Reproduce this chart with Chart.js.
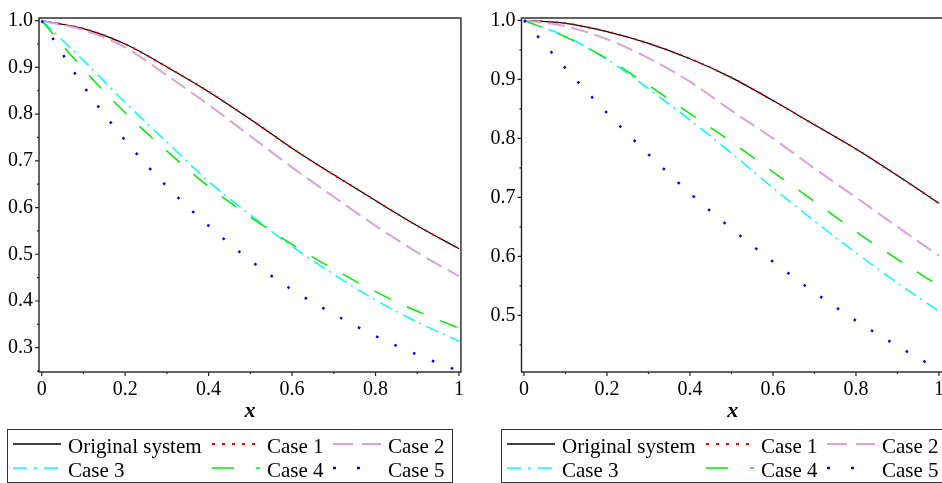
<!DOCTYPE html>
<html>
<head>
<meta charset="utf-8">
<script src="https://cdn.jsdelivr.net/npm/chart.js@4.4.1/dist/chart.umd.min.js"></script>
<style>
  html, body { margin: 0; padding: 0; overflow: hidden; background: #fff; }
  body { width: 942px; height: 483px; position: relative; font-family: "Liberation Serif", "Times New Roman", serif; }
  canvas.plot { position: absolute; top: 0; }
  #leftChart { left: 0; }
  #rightChart { left: 470px; }
  .legend { position: absolute; top: 429px; height: 54px; box-sizing: border-box; border: 1.5px solid #333; }
  .legend span { position: absolute; font-size: 21px; line-height: 21px; white-space: nowrap; color: #000; }
  .legend canvas { position: absolute; }
</style>
</head>
<body>
<canvas id="leftChart" class="plot" width="470" height="430"></canvas>
<canvas id="rightChart" class="plot" width="480" height="430"></canvas>
<div id="leftLegend" class="legend" style="left:7px;width:446px"></div>
<div id="rightLegend" class="legend" style="left:501px;width:443px"></div>
<script>
// values
const xValues = [0, 0.1, 0.2, 0.3, 0.4, 0.5, 0.6, 0.7, 0.8, 0.9, 1]

const leftOriginal = [1.000, 0.983, 0.950, 0.901, 0.848, 0.789, 0.727, 0.670, 0.615, 0.561, 0.512]
const leftCase1 = [1.000, 0.983, 0.950, 0.901, 0.848, 0.789, 0.727, 0.670, 0.615, 0.561, 0.512]
const leftCase2 = [1.000, 0.980, 0.943, 0.883, 0.820, 0.753, 0.686, 0.623, 0.561, 0.504, 0.453]
const leftCase3 = [1.000, 0.915, 0.825, 0.740, 0.656, 0.584, 0.517, 0.457, 0.402, 0.355, 0.314]
const leftCase4 = [1.000, 0.896, 0.803, 0.721, 0.645, 0.580, 0.521, 0.468, 0.420, 0.378, 0.342]
const leftCase5 = [1.000, 0.860, 0.744, 0.645, 0.561, 0.487, 0.424, 0.372, 0.325, 0.285, 0.250]

const rightOriginal = [1.000, 0.995, 0.981, 0.961, 0.935, 0.903, 0.864, 0.823, 0.782, 0.737, 0.690]
const rightCase1 = [1.000, 0.995, 0.981, 0.961, 0.935, 0.903, 0.864, 0.823, 0.782, 0.737, 0.690]
const rightCase2 = [1.000, 0.990, 0.968, 0.936, 0.896, 0.847, 0.800, 0.749, 0.700, 0.650, 0.601]
const rightCase3 = [1.000, 0.973, 0.934, 0.884, 0.831, 0.775, 0.716, 0.660, 0.606, 0.555, 0.507]
const rightCase4 = [1.000, 0.972, 0.935, 0.890, 0.842, 0.794, 0.743, 0.693, 0.642, 0.595, 0.550]
const rightCase5 = [1.000, 0.919, 0.843, 0.773, 0.707, 0.647, 0.591, 0.539, 0.491, 0.448, 0.408]

const seriesNames = ['Original system', 'Case 1', 'Case 2', 'Case 3', 'Case 4', 'Case 5']
const xTicks = [0, 0.2, 0.4, 0.6, 0.8, 1]
const xTickLabels = ['0', '0.2', '0.4', '0.6', '0.8', '1']
const leftYTicks = [0.3, 0.4, 0.5, 0.6, 0.7, 0.8, 0.9, 1.0]
const rightYTicks = [0.5, 0.6, 0.7, 0.8, 0.9, 1.0]
const axisTitle = 'x'

// line looks, same order as seriesNames
const styles = [
  { color: '#000000', width: 1.2, dash: [], legendDash: [] },
  { color: '#ff0000', width: 2, dash: [2, 6], legendDash: [3, 7] },
  { color: '#dda0dd', width: 2, dash: [17, 7], legendDash: [20, 9] },
  { color: '#00ffff', width: 1.5, dash: [13, 5, 2, 6], legendDash: [14, 7, 3, 7] },
  { color: '#00ee00', width: 1.5, dash: [18, 18], legendDash: [22, 22] },
  { color: '#0000ff', width: 2.5, dash: [2.5, 17.8], legendDash: [3, 21] }
]

const serif = '"Liberation Serif", "Times New Roman", serif'

function midpoints(ticks, min) {
  const step = ticks[1] - ticks[0]
  const out = ticks.slice(0, -1).map(t => t + step / 2)
  if (ticks[0] - step / 2 >= min) out.unshift(ticks[0] - step / 2)
  return out
}

// boxed frame with outward ticks, like the original plot
const framePlugin = {
  id: 'frame',
  afterDraw(chart, args, opts) {
    const { ctx, chartArea: a, scales: { x, y } } = chart
    ctx.save()
    ctx.strokeStyle = '#222'
    ctx.lineWidth = 1.4
    ctx.strokeRect(a.left, a.top, a.right - a.left, a.bottom - a.top)
    ctx.lineWidth = 1.2
    ctx.beginPath()
    xTicks.forEach(v => { const p = x.getPixelForValue(v); ctx.moveTo(p, a.bottom); ctx.lineTo(p, a.bottom + 4) })
    midpoints(xTicks, 0).forEach(v => { const p = x.getPixelForValue(v); ctx.moveTo(p, a.bottom); ctx.lineTo(p, a.bottom + 2) })
    opts.yTicks.forEach(v => { const p = y.getPixelForValue(v); ctx.moveTo(a.left, p); ctx.lineTo(a.left - 4, p) })
    midpoints(opts.yTicks, y.min).forEach(v => { const p = y.getPixelForValue(v); ctx.moveTo(a.left, p); ctx.lineTo(a.left - 2, p) })
    ctx.stroke()
    ctx.restore()
  }
}

function makeChart(id, series, yTicks, box) {
  const datasets = series.map((vals, i) => ({
    label: seriesNames[i],
    data: xValues.map((xv, k) => ({ x: xv, y: vals[k] })),
    borderColor: styles[i].color,
    borderWidth: styles[i].width,
    borderDash: styles[i].dash,
    borderCapStyle: 'butt',
    cubicInterpolationMode: 'monotone',
    pointRadius: 0,
    fill: false,
    order: series.length - 1 - i
  }))

  return new Chart(document.getElementById(id), {
    type: 'line',
    data: { datasets },
    plugins: [framePlugin],
    options: {
      responsive: false,
      animation: false,
      layout: { padding: { top: 14, right: box.padRight, left: 0, bottom: 0 } },
      plugins: {
        legend: { display: false },
        tooltip: { enabled: false },
        frame: { yTicks }
      },
      scales: {
        x: {
          type: 'linear',
          min: box.xMin,
          max: box.xMax,
          grid: { display: false, drawTicks: false },
          border: { display: false },
          afterBuildTicks: s => { s.ticks = xTicks.map(v => ({ value: v })) },
          afterFit: s => { s.height = 58 },
          ticks: {
            color: '#000',
            font: { family: serif, size: 20 },
            padding: 6,
            maxRotation: 0,
            autoSkip: false,
            callback: v => xTickLabels[xTicks.indexOf(v)]
          },
          title: {
            display: true,
            text: axisTitle,
            color: '#000',
            font: { family: serif, size: 22, style: 'italic', weight: 'bold' },
            padding: { top: 0, bottom: 5 }
          }
        },
        y: {
          type: 'linear',
          min: box.yMin,
          max: box.yMax,
          grid: { display: false, drawTicks: false },
          border: { display: false },
          afterBuildTicks: s => { s.ticks = yTicks.map(v => ({ value: v })) },
          afterFit: s => { s.width = box.yWidth },
          ticks: {
            color: '#000',
            font: { family: serif, size: 20 },
            padding: 6,
            callback: v => v.toFixed(1)
          }
        }
      }
    }
  })
}

makeChart('leftChart',
  [leftOriginal, leftCase1, leftCase2, leftCase3, leftCase4, leftCase5],
  leftYTicks,
  { xMin: -0.0065, xMax: 1.0047, yMin: 0.248, yMax: 1.0057, yWidth: 39, padRight: 9 })

makeChart('rightChart',
  [rightOriginal, rightCase1, rightCase2, rightCase3, rightCase4, rightCase5],
  rightYTicks,
  { xMin: -0.006, xMax: 1.012, yMin: 0.404, yMax: 1.004, yWidth: 51.5, padRight: 5 })

// legend boxes, 3 columns x 2 rows
function makeLegend(id) {
  const el = document.getElementById(id)
  const sampleX = [4, 203, 324]
  const textX = [60, 259, 380]
  const rowLine = [14, 38]
  const rowTextTop = [5.5, 30]
  seriesNames.forEach((name, i) => {
    const col = i % 3
    const row = Math.floor(i / 3)
    const c = document.createElement('canvas')
    c.width = 50
    c.height = 8
    c.style.left = sampleX[col] + 'px'
    c.style.top = (rowLine[row] - 4) + 'px'
    el.appendChild(c)
    const ctx = c.getContext('2d')
    ctx.strokeStyle = styles[i].color
    ctx.lineWidth = Math.max(styles[i].width, 1.5)
    ctx.setLineDash(styles[i].legendDash)
    ctx.beginPath()
    ctx.moveTo(1, 4)
    ctx.lineTo(49, 4)
    ctx.stroke()
    const t = document.createElement('span')
    t.textContent = name
    t.style.left = textX[col] + 'px'
    t.style.top = rowTextTop[row] + 'px'
    el.appendChild(t)
  })
}
makeLegend('leftLegend')
makeLegend('rightLegend')
</script>
</body>
</html>
